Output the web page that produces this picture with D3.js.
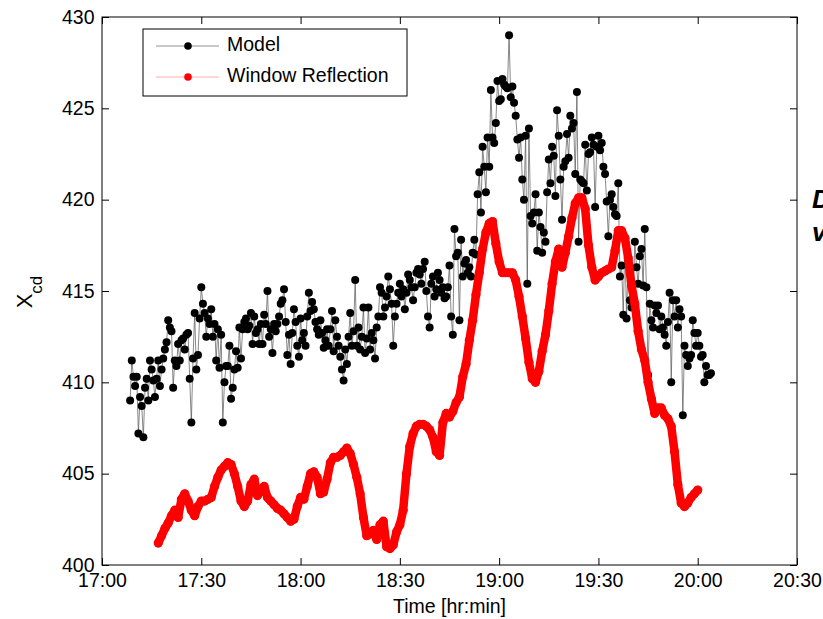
<!DOCTYPE html>
<html>
<head>
<meta charset="utf-8">
<script src="https://cdn.jsdelivr.net/npm/d3@7"></script>
<style>
  body { margin: 0; background: #fff; }
  svg { display: block; font-family: "Liberation Sans", Arial, sans-serif; }
  .axis text { font-size: 19.5px; fill: #000; }
  .axis line { stroke: #000; stroke-width: 1; }
</style>
</head>
<body>
<div id="chart"></div>
<script>
// minutes after 17:00, sampled every 0.5 min from 8.5
const modelStart = 8.5, modelStep = 0.5
const modelValues = [
  409.0, 411.2, 410.3, 409.8, 410.3, 407.2, 409.2, 408.7, 407.0, 409.7,
  410.2, 409.0, 411.2, 410.7, 410.1, 409.2, 410.2, 411.2, 409.8, 410.7,
  411.3, 411.8, 412.2, 413.4, 413.0, 412.8, 409.7, 411.2, 410.9, 412.1,
  411.2, 412.3, 412.4, 411.8, 412.6, 412.7, 410.2, 407.8, 411.3, 413.8,
  410.7, 411.5, 413.5, 415.2, 414.3, 413.8, 412.5, 413.5, 413.2, 414.0,
  412.5, 413.2, 411.2, 412.9, 410.8, 412.6, 407.8, 410.0, 410.9, 410.9,
  412.0, 409.1, 409.7, 410.7, 411.7, 410.8, 413.0, 411.3, 412.9, 413.3,
  413.5, 412.9, 413.1, 413.8, 412.1, 413.6, 412.7, 412.9, 412.1, 413.2,
  412.1, 413.7, 413.2, 415.0, 412.5, 412.9, 411.6, 413.2, 412.8, 413.2,
  413.6, 414.3, 414.5, 415.1, 413.3, 411.5, 412.6, 411.0, 412.7, 414.0,
  413.3, 412.0, 411.4, 413.5, 412.3, 412.7, 412.0, 413.6, 414.9, 413.9,
  414.4, 414.0, 413.3, 412.9, 412.6, 413.4, 412.7, 411.9, 412.3, 412.9,
  412.0, 412.9, 413.9, 411.7, 413.4, 412.5, 412.0, 411.4, 410.7, 410.1,
  411.8, 411.0, 412.5, 413.8, 412.0, 412.8, 415.6, 412.0, 413.0, 411.8,
  412.5, 414.1, 411.6, 412.4, 414.1, 411.8, 412.7, 412.3, 411.3, 413.0,
  413.6, 415.2, 414.9, 413.6, 414.1, 414.7, 415.8, 415.1, 414.3, 412.0,
  413.6, 414.3, 414.9, 415.4, 414.7, 415.1, 414.0, 414.9, 415.9, 415.6,
  415.2, 414.5, 415.2, 416.0, 416.2, 415.9, 415.4, 416.2, 416.6, 415.0,
  413.6, 413.0, 415.4, 415.8, 414.7, 415.1, 416.0, 415.6, 414.9, 415.2,
  414.6, 414.7, 415.2, 416.4, 413.6, 412.6, 418.4, 416.9, 417.1, 413.4,
  417.8, 415.8, 416.5, 416.7, 416.0, 416.3, 415.8, 417.1, 417.8, 417.0,
  420.3, 421.5, 419.3, 422.9, 421.8, 420.4, 423.4, 421.8, 426.0, 423.4,
  423.1, 424.2, 426.5, 425.4, 425.5, 426.6, 426.3, 426.2, 426.1, 429.0,
  425.6, 426.2, 425.3, 424.6, 423.3, 422.3, 423.4, 421.1, 420.0, 423.5,
  415.4, 423.9, 419.1, 418.7, 419.3, 420.3, 417.2, 419.3, 418.5, 417.1,
  418.2, 417.7, 420.4, 422.2, 420.9, 422.9, 422.4, 420.2, 424.9, 423.5,
  421.1, 418.9, 421.8, 422.1, 423.6, 422.3, 424.6, 423.9, 424.2, 421.4,
  425.9, 417.7, 421.1, 421.0, 420.9, 423.0, 420.5, 422.5, 422.6, 423.4,
  423.0, 419.6, 422.9, 423.5, 422.7, 423.1, 421.8, 421.4, 419.9, 418.0,
  420.0, 420.3, 419.6, 419.2, 419.1, 420.9, 415.8, 416.4, 413.7, 417.8,
  413.5, 416.7, 414.5, 414.1, 414.7, 417.7, 416.3, 415.4, 416.9, 417.3,
  415.3, 418.4, 415.2, 410.4, 414.3, 413.4, 413.0, 414.2, 413.8, 414.2,
  412.9, 413.6, 413.0, 412.6, 412.0, 413.3, 414.9, 410.0, 414.5, 413.6,
  414.5, 413.0, 414.0, 413.6, 408.2, 412.0, 411.5, 410.9, 411.3, 411.5,
  413.4, 412.7, 412.0, 412.7, 412.0, 411.4, 411.5, 410.0, 410.9, 410.4,
  410.4, 410.5
]

// minutes after 17:00, one per minute from 17
const reflStart = 17, reflStep = 1
const reflValues = [
  401.2, 401.6, 402.0, 402.3, 402.7, 403.0, 402.6, 403.6, 403.9, 403.5,
  403.0, 402.7, 403.2, 403.5, 403.5, 403.6, 403.7, 404.3, 404.8, 405.2,
  405.4, 405.6, 405.5, 405.0, 404.3, 403.5, 403.2, 403.5, 404.4, 404.7,
  403.8, 404.1, 404.3, 403.7, 403.5, 403.3, 403.1, 403.0, 402.8, 402.6,
  402.4, 402.5, 403.2, 403.7, 403.6, 404.3, 405.0, 405.1, 404.8, 403.9,
  404.0, 404.7, 405.6, 405.9, 405.9, 406.0, 406.2, 406.4, 406.1, 405.5,
  404.8, 403.9, 402.6, 401.6, 401.7, 401.9, 401.4, 402.2, 402.4, 401.0,
  400.9, 401.1, 401.8, 402.2, 403.0, 405.0, 406.5, 407.2, 407.6, 407.7,
  407.7, 407.6, 407.4, 407.0, 406.2, 406.0, 407.8, 408.3, 408.1, 408.4,
  408.9, 409.2, 410.3, 411.0, 412.3, 413.4, 414.8, 416.0, 417.3, 418.2,
  418.7, 418.8, 417.6, 416.6, 416.0, 416.0, 416.0, 416.0, 415.6, 414.7,
  413.6, 412.4, 411.1, 410.2, 410.0, 410.6, 411.7, 412.6, 413.9, 415.4,
  416.6, 417.3, 416.3, 417.1, 418.0, 419.0, 419.8, 420.1, 420.1, 419.5,
  417.5, 416.3, 415.6, 415.8, 416.0, 416.1, 416.2, 416.3, 417.2, 418.3,
  418.3, 417.9, 416.8, 415.3, 414.3, 412.8, 411.8, 411.2, 410.0, 409.1,
  408.3, 408.6, 408.6, 408.2, 408.0, 407.6, 406.2, 404.4, 403.4, 403.2,
  403.4, 403.7, 403.9, 404.1
]

const xDomain = [new Date(2000, 0, 1, 17, 0), new Date(2000, 0, 1, 20, 30)]
const yDomain = [400, 430]
const yTicks = [400, 405, 410, 415, 420, 425, 430]
const seriesNames = ['Model', 'Window Reflection']

const toTime = m => new Date(2000, 0, 1, 17, 0, Math.round(m * 60))
const model = modelValues.map((v, i) => ({ t: toTime(modelStart + i * modelStep), v }))
const refl = reflValues.map((v, i) => ({ t: toTime(reflStart + i * reflStep), v }))

const width = 823, height = 619
const margin = { top: 17, right: 26, bottom: 54, left: 102 }
const w = width - margin.left - margin.right
const h = height - margin.top - margin.bottom

const svg = d3.select('#chart').append('svg')
  .attr('width', width).attr('height', height)

const g = svg.append('g').attr('transform', `translate(${margin.left},${margin.top})`)

const x = d3.scaleTime().domain(xDomain).range([0, w])
const y = d3.scaleLinear().domain(yDomain).range([h, 0])
const xTicks = d3.timeMinute.every(30).range(xDomain[0], d3.timeMinute.offset(xDomain[1], 1))

// axes, MATLAB style: inward ticks on all four sides
g.append('g').attr('class', 'axis')
  .attr('transform', `translate(0,${h})`)
  .call(d3.axisBottom(x).tickValues(xTicks).tickFormat(d3.timeFormat('%H:%M'))
    .tickSizeInner(-7).tickSizeOuter(0).tickPadding(8))
g.append('g').attr('class', 'axis')
  .call(d3.axisTop(x).tickValues(xTicks).tickFormat('').tickSizeInner(-7).tickSizeOuter(0))
g.append('g').attr('class', 'axis')
  .call(d3.axisLeft(y).tickValues(yTicks).tickSizeInner(-7).tickSizeOuter(0).tickPadding(7.5))
g.append('g').attr('class', 'axis')
  .attr('transform', `translate(${w},0)`)
  .call(d3.axisRight(y).tickValues(yTicks).tickFormat('').tickSizeInner(-7).tickSizeOuter(0))
g.selectAll('.axis .domain').remove()

g.append('rect')
  .attr('width', w).attr('height', h)
  .attr('fill', 'none').attr('stroke', '#000').attr('stroke-width', 1)

// model series
const line = d3.line().x(d => x(d.t)).y(d => y(d.v))

g.append('path').datum(model)
  .attr('d', line)
  .attr('fill', 'none').attr('stroke', '#555').attr('stroke-width', 0.7)

g.append('g').selectAll('circle').data(model).join('circle')
  .attr('cx', d => x(d.t)).attr('cy', d => y(d.v))
  .attr('r', 4).attr('fill', '#000')

// window reflection series (dense markers form a thick band)
g.append('path').datum(refl)
  .attr('d', line)
  .attr('fill', 'none').attr('stroke', '#f00').attr('stroke-width', 8.5)
  .attr('stroke-linejoin', 'round').attr('stroke-linecap', 'round')

g.append('g').selectAll('circle').data(refl).join('circle')
  .attr('cx', d => x(d.t)).attr('cy', d => y(d.v))
  .attr('r', 4.6).attr('fill', '#f00')

// legend
const leg = svg.append('g').attr('transform', 'translate(143,29)')
leg.append('rect')
  .attr('width', 264).attr('height', 67)
  .attr('fill', '#fff').attr('stroke', '#000').attr('stroke-width', 1)

const legRows = [
  { name: seriesNames[0], line: '#777', dot: '#000', y: 17 },
  { name: seriesNames[1], line: '#f99', dot: '#f00', y: 48 }
]
legRows.forEach(r => {
  leg.append('line')
    .attr('x1', 13).attr('x2', 76).attr('y1', r.y).attr('y2', r.y)
    .attr('stroke', r.line).attr('stroke-width', 0.8)
  leg.append('circle')
    .attr('cx', 45).attr('cy', r.y).attr('r', 3.8).attr('fill', r.dot)
  leg.append('text')
    .attr('x', 84).attr('y', r.y + 5)
    .attr('font-size', '19.5px')
    .text(r.name)
})

// axis titles
svg.append('text')
  .attr('x', margin.left + w / 2).attr('y', 613)
  .attr('text-anchor', 'middle').attr('font-size', '19.5px')
  .text('Time [hr:min]')

const yl = svg.append('text')
  .attr('transform', 'translate(32,292) rotate(-90)')
  .attr('text-anchor', 'middle')
yl.append('tspan').attr('font-size', '22px').text('X')
yl.append('tspan').attr('font-size', '17px').attr('dy', 10).text('cd')

// cut-off annotation at the right edge
svg.append('text').attr('x', 812).attr('y', 208)
  .attr('font-size', '26px').attr('font-weight', 'bold').attr('font-style', 'italic')
  .text('D')
svg.append('text').attr('x', 812).attr('y', 241)
  .attr('font-size', '26px').attr('font-weight', 'bold').attr('font-style', 'italic')
  .text('v')
</script>
</body>
</html>
